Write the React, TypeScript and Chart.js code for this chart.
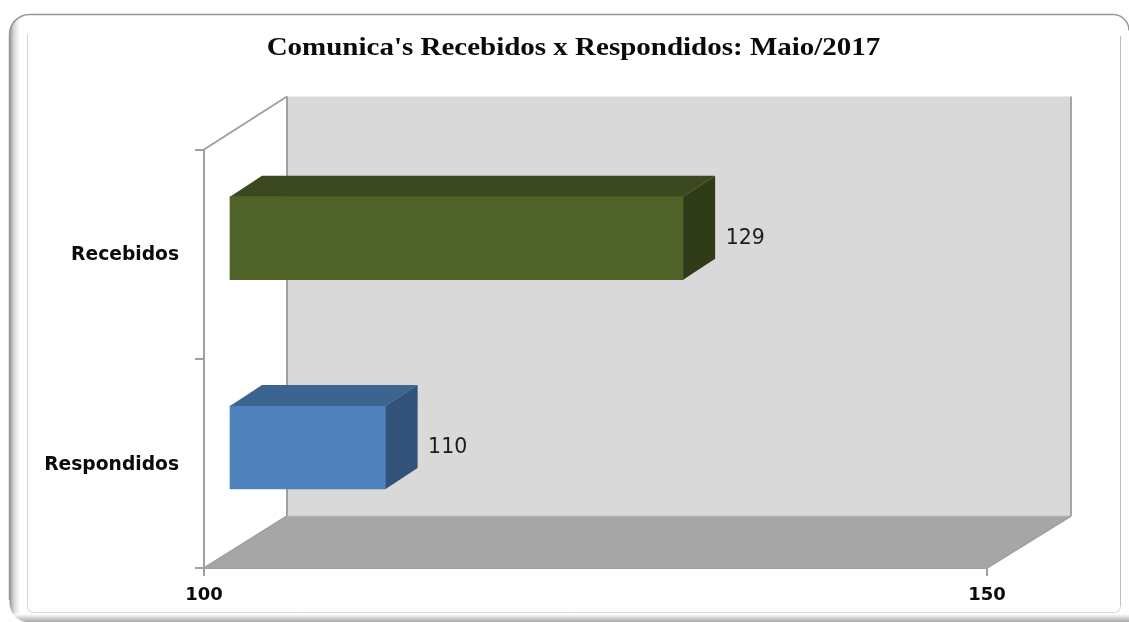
import React, { useEffect, useRef } from "react";
import { Chart, registerables } from "chart.js";

Chart.register(...registerables);

const categories = ["Recebidos", "Respondidos"];
const values = [129, 110];
const axisMin = 100;
const axisMax = 150;
const axisStep = 50;
const titleText = "Comunica's Recebidos x Respondidos: Maio/2017";
const frontColors = ["#4f6228", "#4f81bd"];
const topColors = ["#3c481f", "#3c6491"];
const sideColors = ["#303c18", "#325379"];

const WALL_DX = 83;
const WALL_DY = -52;
const BAR_SHIFT_X = 25;
const BAR_SHIFT_Y = -16;
const BAR_DX = 32;
const BAR_DY = -21;
const AXIS_GRAY = "#a0a0a0";

function poly(ctx: CanvasRenderingContext2D, pts: number[][], fill: string) {
  ctx.beginPath();
  pts.forEach((p, i) => (i ? ctx.lineTo(p[0], p[1]) : ctx.moveTo(p[0], p[1])));
  ctx.closePath();
  ctx.fillStyle = fill;
  ctx.fill();
}

function line(ctx: CanvasRenderingContext2D, x1: number, y1: number, x2: number, y2: number, color: string, w = 2) {
  ctx.beginPath();
  ctx.moveTo(x1, y1);
  ctx.lineTo(x2, y2);
  ctx.strokeStyle = color;
  ctx.lineWidth = w;
  ctx.stroke();
}

const scene3d = {
  id: "scene3d",
  beforeDraw(chart: any) {
    const ctx: CanvasRenderingContext2D = chart.ctx;
    const W = chart.width;
    const H = chart.height;
    ctx.save();
    ctx.fillStyle = "#ffffff";
    ctx.fillRect(0, 0, W, H);
    // outer frame shading
    ctx.save();
    ctx.beginPath();
    ctx.roundRect(9.5, 14.5, W + 10, H - 14, 20);
    ctx.clip();
    const gl = ctx.createLinearGradient(9, 0, 20, 0);
    gl.addColorStop(0, "#8e8e8e");
    gl.addColorStop(0.45, "#d8d8d8");
    gl.addColorStop(1, "#ffffff");
    ctx.fillStyle = gl;
    ctx.fillRect(9, 14, 12, H);
    const gb = ctx.createLinearGradient(0, 614, 0, 622);
    gb.addColorStop(0, "#ffffff");
    gb.addColorStop(1, "#a8a8a8");
    ctx.fillStyle = gb;
    ctx.fillRect(9, 614, W, 8);
    ctx.restore();
    ctx.beginPath();
    ctx.moveTo(9.5, 600);
    ctx.lineTo(9.5, 34);
    ctx.arcTo(9.5, 14.5, 30, 14.5, 20);
    ctx.lineTo(1112, 14.5);
    ctx.arcTo(1129, 14.5, 1129, 30, 16);
    ctx.strokeStyle = "#969696";
    ctx.lineWidth = 1.5;
    ctx.stroke();
    // inner panel edges (left, bottom, right only)
    ctx.beginPath();
    ctx.moveTo(27.5, 34);
    ctx.lineTo(27.5, 606);
    ctx.arcTo(27.5, 612.5, 34, 612.5, 6);
    ctx.lineTo(1114, 612.5);
    ctx.arcTo(1120.5, 612.5, 1120.5, 606, 6);
    ctx.strokeStyle = "#d4d4d4";
    ctx.lineWidth = 1;
    ctx.stroke();
    line(ctx, 1120.5, 606, 1120.5, 36, "#bcbcbc", 1);
    // title
    ctx.fillStyle = "#0a0a0a";
    ctx.font = "bold 26px 'Liberation Serif'";
    ctx.textAlign = "center";
    ctx.textBaseline = "alphabetic";
    ctx.translate(573.5, 54.5);
    ctx.scale(1.115, 1);
    ctx.fillText(titleText, 0, 0);
    ctx.restore();
  },
  beforeDatasetsDraw(chart: any) {
    const ctx: CanvasRenderingContext2D = chart.ctx;
    const { left, right, top, bottom } = chart.chartArea;
    ctx.save();
    const bl = left + WALL_DX;
    const br = right + WALL_DX + 1;
    const bt = top + WALL_DY - 1;
    const bb = bottom + WALL_DY;
    poly(ctx, [[bl, bt], [br, bt], [br, bb], [bl, bb]], "#d9d9d9");
    poly(ctx, [[left, bottom], [bl, bb], [br, bb], [right, bottom]], "#a6a6a6");
    line(ctx, left, top, bl, bt, AXIS_GRAY);
    line(ctx, bl, bt, bl, bb, AXIS_GRAY);
    line(ctx, br, bt, br, bb, "#8c8c8c", 1.5);
    line(ctx, bl, bb, br, bb, "#bdbdbd", 1);
    line(ctx, left, bottom, bl, bb, AXIS_GRAY, 1.5);
    line(ctx, right, bottom, br, bb, AXIS_GRAY, 1.5);
    ctx.translate(BAR_SHIFT_X, BAR_SHIFT_Y);
  },
  afterDatasetsDraw(chart: any) {
    const ctx: CanvasRenderingContext2D = chart.ctx;
    const meta = chart.getDatasetMeta(0);
    meta.data.forEach((bar: any, i: number) => {
      const { x, y, base, height } = bar.getProps(["x", "y", "base", "height"], true);
      const t = y - height / 2;
      const b = y + height / 2;
      poly(ctx, [[base, t], [base + BAR_DX, t + BAR_DY], [x + BAR_DX, t + BAR_DY], [x, t]], topColors[i]);
      poly(ctx, [[x, t], [x + BAR_DX, t + BAR_DY], [x + BAR_DX, b + BAR_DY], [x, b]], sideColors[i]);
      ctx.fillStyle = "#1c1c1c";
      ctx.font = "20.5px 'DejaVu Sans'";
      ctx.textAlign = "left";
      ctx.textBaseline = "middle";
      ctx.fillText(String(values[i]), x + BAR_DX + 10.5, y + 0.5);
    });
    ctx.restore();
  },
};

export default function App() {
  const ref = useRef<HTMLCanvasElement>(null);
  useEffect(() => {
    document.body.style.margin = "0";
    const chart = new Chart(ref.current as HTMLCanvasElement, {
      type: "bar",
      data: {
        labels: categories,
        datasets: [
          {
            data: values,
            base: axisMin,
            backgroundColor: frontColors,
            barThickness: 83,
            borderWidth: 0,
            clip: false as any,
          },
        ],
      },
      options: {
        indexAxis: "y",
        animation: false,
        responsive: false,
        devicePixelRatio: 1,
        layout: { padding: { left: 0, right: 142, top: 149.5, bottom: 0 } },
        plugins: {
          legend: { display: false },
          title: { display: false },
          tooltip: { enabled: false },
        },
        scales: {
          x: {
            type: "linear",
            min: axisMin,
            max: axisMax,
            afterFit: (s: any) => {
              s.height = 54;
            },
            ticks: {
              stepSize: axisStep,
              color: "#0a0a0a",
              font: { family: "'DejaVu Sans'", size: 18, weight: "bold" },
              padding: 9,
              maxRotation: 0,
            },
            grid: { drawOnChartArea: false, drawTicks: true, tickLength: 8, color: AXIS_GRAY, lineWidth: 2 },
            border: { display: true, color: AXIS_GRAY, width: 2 },
          },
          y: {
            type: "category",
            afterFit: (s: any) => {
              s.width = 204;
            },
            ticks: {
              color: "#0a0a0a",
              font: { family: "'DejaVu Sans'", size: 18.7, weight: "bold" },
              padding: 16,
              labelOffset: 1.5,
            },
            grid: { drawOnChartArea: false, drawTicks: true, tickLength: 9, color: AXIS_GRAY, lineWidth: 2, offset: true },
            border: { display: true, color: AXIS_GRAY, width: 2 },
          },
        },
      } as any,
      plugins: [scene3d as any],
    });
    return () => chart.destroy();
  }, []);
  return <canvas ref={ref} width={1129} height={622} style={{ display: "block" }} />;
}
